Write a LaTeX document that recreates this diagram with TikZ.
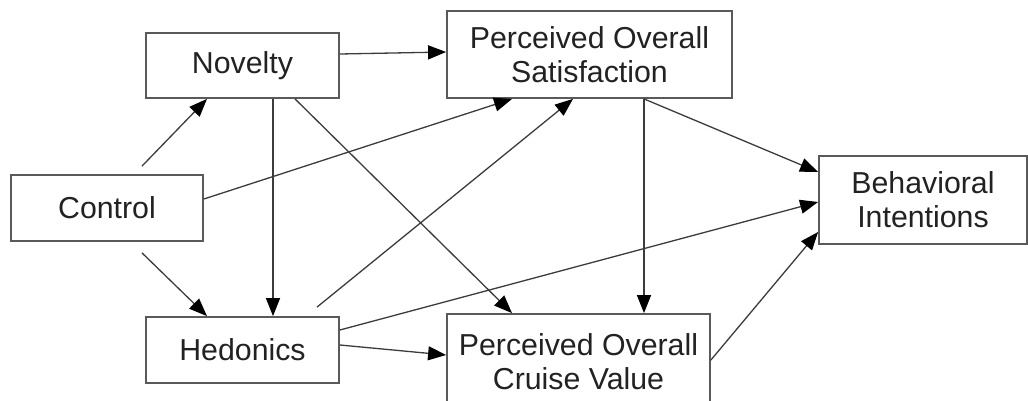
\documentclass[tikz,border=0pt]{standalone}
\usepackage{fontspec}
\setmainfont{Liberation Sans}
\usetikzlibrary{arrows.meta}
\definecolor{boxline}{HTML}{5A5A5A}
\definecolor{arrline}{HTML}{3C3C3C}
\definecolor{txt}{HTML}{222222}
\begin{document}
\begin{tikzpicture}[x=1pt,y=-1pt,
  box/.style={draw=boxline, line width=1.8pt, fill=white, inner sep=0pt, align=center,
    text=txt, font=\fontsize{30.3pt}{34pt}\selectfont},
  conn/.style={draw=arrline, line width=1.3pt,
    -{Triangle[length=18pt,width=14pt,fill=black,color=black]}}]
\clip (0,0) rectangle (1028,401);
\fill[white] (0,0) rectangle (1028,401);
% boxes
\node[box, minimum width=193pt, minimum height=65pt] (nov) at (242.5,65.5) {Novelty};
\node[box, minimum width=285pt, minimum height=87pt] (pos) at (589.5,54.5) {Perceived Overall\\Satisfaction};
\node[box, minimum width=192pt, minimum height=66pt] (con) at (107,208) {Control};
\node[box, minimum width=208pt, minimum height=88pt] (bi) at (923,200) {Behavioral\\Intentions};
\node[box, minimum width=193pt, minimum height=66pt] (hed) at (242.5,350) {Hedonics};
\node[box, minimum width=263pt, minimum height=96pt] (pocv) at (578.5,362) {Perceived Overall\\Cruise Value};
% connectors
\draw[conn] ([shift={(35pt,8pt)}]con.north) -- ([shift={(-35.5pt,0pt)}]nov.south);
\draw[conn] ([shift={(35pt,-11pt)}]con.south) -- ([shift={(-35.5pt,0pt)}]hed.north);
\draw[conn] ([shift={(0pt,11.5pt)}]nov.east) -- ([shift={(0pt,2.5pt)}]pos.west);
\draw[conn] ([shift={(30.5pt,0pt)}]nov.south) -- ([shift={(30.5pt,0pt)}]hed.north);
\draw[conn] ([shift={(52.5pt,0pt)}]nov.south) -- ([shift={(-66.5pt,0pt)}]pocv.north);
\draw[conn] ([shift={(0pt,9pt)}]con.east) -- ([shift={(-77.5pt,0pt)}]pos.south);
\draw[conn] ([shift={(74.5pt,9pt)}]hed.north) -- ([shift={(-16.5pt,0pt)}]pos.south);
\draw[conn] ([shift={(0pt,5pt)}]hed.east) -- ([shift={(0pt,7pt)}]pocv.west);
\draw[conn] ([shift={(0pt,20pt)}]hed.east) -- ([shift={(0pt,-2pt)}]bi.west);
\draw[conn] ([shift={(54.5pt,0pt)}]pos.south) -- ([shift={(65.5pt,0pt)}]pocv.north);
\draw[conn] ([shift={(54.5pt,0pt)}]pos.south) -- ([shift={(0pt,28pt)}]bi.west);
\draw[conn] ([shift={(0pt,2pt)}]pocv.east) -- ([shift={(0pt,-32pt)}]bi.west);
\end{tikzpicture}
\end{document}
